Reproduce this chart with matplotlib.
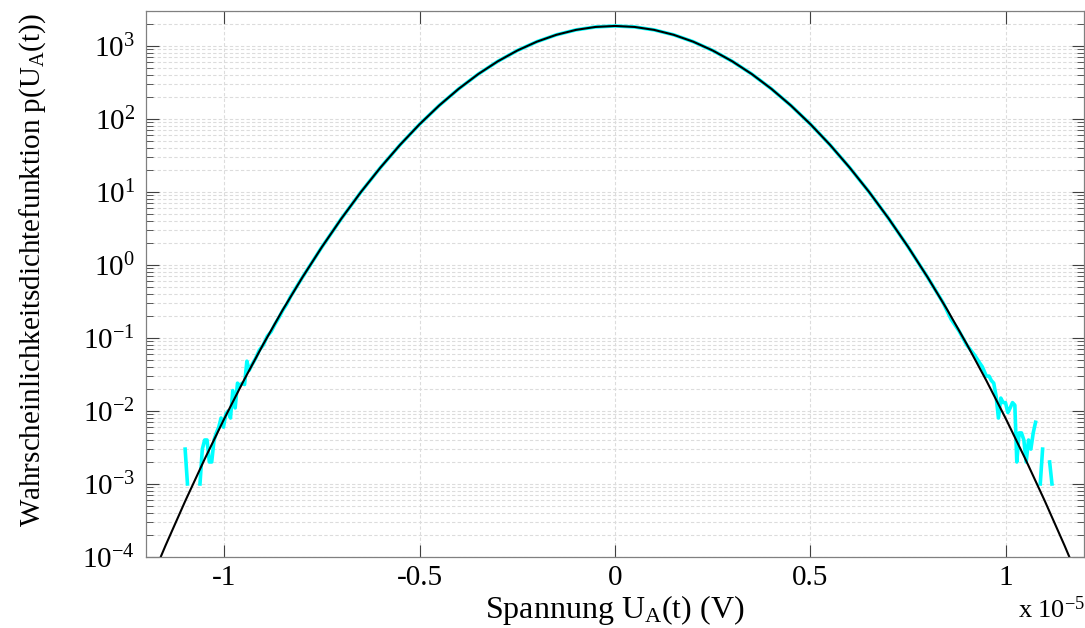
import numpy as np
import matplotlib
matplotlib.use("Agg")
import matplotlib.pyplot as plt
from matplotlib.ticker import LogLocator, FixedLocator

plt.rcParams['font.family'] = ['Liberation Serif', 'DejaVu Serif']
plt.rcParams['mathtext.fontset'] = 'custom'
plt.rcParams['mathtext.rm'] = 'Liberation Serif'
plt.rcParams['mathtext.it'] = 'Liberation Serif:italic'

# x in units of 1e-5 V
fit_x = [-1.2, -1.15, -1.1, -1.05, -1.0, -0.95, -0.9, -0.85, -0.8, -0.75, -0.7, -0.65, -0.6,
         -0.55, -0.5, -0.45, -0.4, -0.35, -0.3, -0.25, -0.2, -0.15, -0.1, -0.05, 0.0,
         0.05, 0.1, 0.15, 0.2, 0.25, 0.3, 0.35, 0.4, 0.45, 0.5, 0.55, 0.6,
         0.65, 0.7, 0.75, 0.8, 0.85, 0.9, 0.95, 1.0, 1.05, 1.1, 1.15, 1.2]
fit_p = [3.35e-5, 1.44e-4, 5.79e-4, 2.19e-3, 7.80e-3, 2.61e-2, 8.21e-2, 0.243, 0.674, 1.76, 4.32, 9.98, 21.6,
         44.1, 84.5, 152.3, 257.8, 410.2, 613.5, 862.6, 1140, 1416, 1653, 1814, 1871,
         1814, 1653, 1416, 1140, 862.6, 613.5, 410.2, 257.8, 152.3, 84.5, 44.1, 21.6,
         9.98, 4.32, 1.76, 0.674, 0.243, 8.21e-2, 2.61e-2, 7.80e-3, 2.19e-3, 5.79e-4, 1.44e-4, 3.35e-5]

# measured histogram (cyan); nan = empty bin
left_x = [-1.100, -1.094, -1.088, -1.076, -1.068, -1.062, -1.056, -1.050, -1.044, -1.038, -1.032,
          -1.026, -1.020, -1.014, -1.008, -1.002, -0.996, -0.990, -0.984, -0.978, -0.972, -0.966,
          -0.960, -0.954, -0.948, -0.942, -0.936, -0.930, -0.920, -0.910, -0.900, -0.890, -0.880,
          -0.870, -0.860, -0.850, -0.840, -0.830]
left_p = [0.003, 0.001, np.nan, np.nan, np.nan, 0.001, 0.003, 0.004, 0.004, 0.002, 0.002,
          0.004, 0.005, 0.006, 0.008, 0.006, 0.009, 0.010, 0.008, 0.019, 0.011, 0.024,
          0.022, 0.024, 0.023, 0.048, 0.036, 0.042, 0.052, 0.068, 0.080, 0.105, 0.122,
          0.155, 0.190, 0.240, 0.290, 0.370]
mid_x = [-0.8, -0.75, -0.7, -0.65, -0.6, -0.55, -0.5, -0.45, -0.4, -0.35, -0.3, -0.25, -0.2, -0.15,
         -0.1, -0.05, 0.0, 0.05, 0.1, 0.15, 0.2, 0.25, 0.3, 0.35, 0.4, 0.45, 0.5, 0.55, 0.6, 0.65,
         0.7, 0.75, 0.8]
mid_p = [0.674, 1.76, 4.32, 9.98, 21.6, 44.1, 84.5, 152.3, 257.8, 410.2, 613.5, 862.6, 1140, 1416,
         1653, 1814, 1871, 1814, 1653, 1416, 1140, 862.6, 613.5, 410.2, 257.8, 152.3, 84.5, 44.1, 21.6, 9.98,
         4.32, 1.76, 0.674]
right_x = [0.840, 0.860, 0.880, 0.900, 0.910, 0.920, 0.930, 0.940, 0.950, 0.957, 0.963, 0.969,
           0.975, 0.981, 0.987, 0.993, 0.999, 1.005, 1.011, 1.017, 1.023, 1.028, 1.034, 1.040,
           1.046, 1.052, 1.058, 1.064, 1.070, 1.076, 1.082, 1.088, 1.094, 1.100, 1.106, 1.112, 1.118]
right_p = [0.300, 0.180, 0.125, 0.080, 0.068, 0.058, 0.048, 0.040, 0.030, 0.030, 0.026, 0.024,
           0.016, 0.008, 0.015, 0.013, 0.013, 0.0095, 0.011, 0.013, 0.012, 0.002, 0.005, 0.005,
           0.004, 0.002, 0.004, 0.003, 0.005, 0.007, np.nan, 0.001, 0.003, np.nan, np.nan, 0.002, 0.001]

hist_x = left_x + mid_x + right_x
hist_p = left_p + mid_p + right_p

fig = plt.figure(figsize=(10.85, 6.28), dpi=100)
ax = fig.add_axes([0.1346, 0.1131, 0.8645, 0.8694])

ax.semilogy(hist_x, hist_p, color='#00ffff', lw=2.6)
ax.semilogy(fit_x, fit_p, color='black', lw=1.5)

ax.set_xlim(-1.2, 1.2)
ax.set_ylim(1e-4, 3000)
ax.xaxis.set_major_locator(FixedLocator([-1, -0.5, 0, 0.5, 1]))
ax.set_xticklabels(['-1', '-0.5', '0', '0.5', '1'])
ax.yaxis.set_minor_locator(LogLocator(base=10, subs=np.arange(2, 10), numticks=20))
ax.set_yticks([1e-4, 1e-3, 1e-2, 1e-1, 1e0, 1e1, 1e2, 1e3])
ax.set_yticklabels([r'$\mathregular{10^{%d}}$' % e for e in range(-4, 4)])

gs = dict(color='#dcdcdc', lw=0.8, linestyle=(0, (3, 2)))
ax.grid(True, which='major', axis='both', **gs)
ax.grid(True, which='minor', axis='y', **gs)
ax.set_axisbelow(True)

ax.tick_params(which='both', direction='in', top=True, right=True, colors='#404040',
               labelcolor='black', labelsize=21)
ax.tick_params(axis='x', pad=6)
ax.tick_params(axis='y', pad=8)
ax.tick_params(which='major', length=9, width=0.8)
ax.tick_params(which='minor', length=5, width=0.6)
ax.tick_params(axis='x', which='minor', bottom=False, top=False)
for s in ax.spines.values():
    s.set_color('#808080')
    s.set_linewidth(0.9)

ax.set_xlabel(r'Spannung U$_\mathregular{A}$(t) (V)', fontsize=23)
ax.xaxis.set_label_coords(0.5, -0.066)
ax.set_ylabel(r'Wahrscheinlichkeitsdichtefunktion p(U$_\mathregular{A}$(t))', fontsize=21)
ax.yaxis.set_label_coords(-0.104, 0.525)
fig.text(0.938, 0.008, r'x 10$^\mathregular{-5}$', fontsize=19, ha='left', va='bottom')

fig.savefig('out.png', dpi=100)
